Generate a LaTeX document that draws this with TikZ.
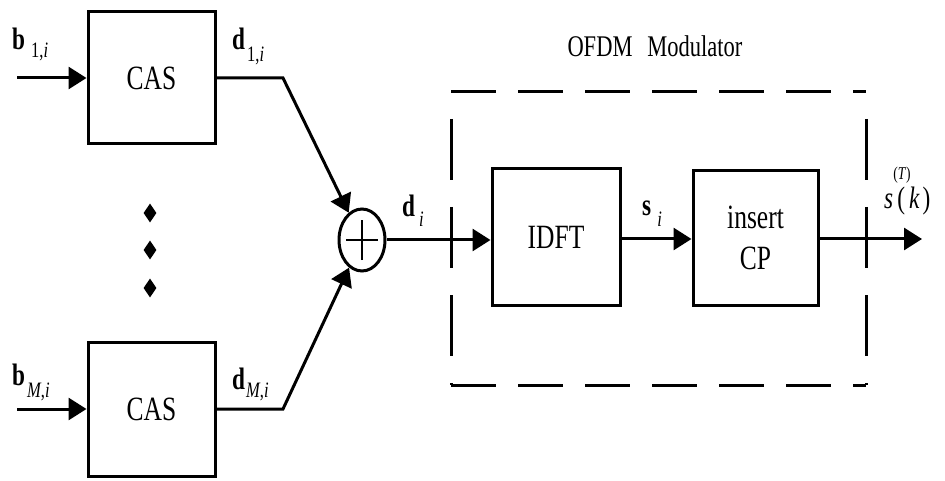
\documentclass[tikz,border=0pt]{standalone}
\usepackage{fontspec}
\setmainfont{Liberation Serif}[FakeStretch=0.75]
\usetikzlibrary{arrows.meta,shapes.geometric}
\begin{document}
\begin{tikzpicture}[x=1pt,y=-1pt,
  blk/.style={draw,line width=3pt,inner sep=0pt,font=\fontsize{34}{37}\selectfont,align=center},
  conn/.style={line width=3pt},
  arr/.style={conn,-{Triangle[length=18pt,width=22pt]}},
  lbl/.style={inner sep=0pt,anchor=base west,font=\fontsize{31}{31}\selectfont},
  dsh/.style={line width=3pt},
  dotmark/.style={diamond,fill=black,inner sep=0pt,minimum width=13pt,minimum height=19pt},
]
\useasboundingbox (0,0) rectangle (945,481);

% blocks
\node[blk,minimum width=127pt,minimum height=132pt] (cas1) at (151.5,78) {CAS};
\node[blk,minimum width=127pt,minimum height=134pt] (cas2) at (151.5,409) {CAS};
\node[blk,minimum width=128pt,minimum height=136pt] (idft) at (556,237) {IDFT};
\node[blk,minimum width=125pt,minimum height=134pt] (cp) at (755.5,238) {insert\\[4pt]CP};

% adder
\node[draw,line width=3pt,ellipse,minimum width=46pt,minimum height=62pt,inner sep=0pt] (sum) at (362,240) {};
\draw[line width=2.5pt] ([xshift=-16pt]sum.center) -- ([xshift=16pt]sum.center);
\draw[line width=2.5pt] ([yshift=-20pt]sum.center) -- ([yshift=20pt]sum.center);

% dots
\node[dotmark] (dot1) at (150,213) {};
\node[dotmark] (dot2) at (150,250) {};
\node[dotmark] (dot3) at (150,288) {};

% coordinates
\coordinate (in1) at (17,78);
\coordinate (in2) at (17,409);
\coordinate (c1) at (283,78);
\coordinate (c2) at (283,409);
\coordinate (out) at (922,239);

% connectors
\draw[arr] (in1) -- (cas1.west);
\draw[arr] (in2) -- (cas2.west);
\draw[arr] (cas1.east) -- (c1) -- (sum);
\draw[arr] (cas2.east) -- (c2) -- (sum);
\draw[arr] (sum.east) -- (sum.east -| idft.west);
\draw[arr] (idft.east |- 0,239) -- (cp.west |- 0,239);
\draw[arr] (cp.east |- 0,239) -- (out);

% dashed modulator frame
\coordinate (fa) at (451,92);
\coordinate (fb) at (866,92);
\coordinate (fc) at (866,385);
\coordinate (fd) at (451,385);
\draw[dsh,dash pattern=on 45pt off 22pt] (fa) -- (fb);
\draw[dsh,dash pattern=on 45pt off 22pt] (fd) -- (fc);
\draw[dsh,dash pattern=on 61pt off 27pt,dash phase=61pt] (fa) -- (fd);
\draw[dsh,dash pattern=on 61pt off 27pt,dash phase=61pt] (fb) -- (fc);
\node[inner sep=0pt,anchor=base,font=\fontsize{30}{30}\selectfont] (title) at (655,57) {OFDM\hspace{0.5em}Modulator};

% labels
\node[lbl] (lb1) at (12,50) {\textbf{b}\hspace{6pt}\raisebox{-8pt}{\fontsize{22}{22}\selectfont 1,\textit{i}}};
\node[lbl] (ld1) at (232,50) {\textbf{d}\hspace{2pt}\raisebox{-12pt}{\fontsize{22}{22}\selectfont 1,\textit{i}}};
\node[lbl] (lbM) at (12,385) {\textbf{b}\hspace{2pt}\raisebox{-12pt}{\fontsize{22}{22}\selectfont\textit{M},\textit{i}}};
\node[lbl] (ldM) at (232,389) {\textbf{d}\hspace{1pt}\raisebox{-8pt}{\fontsize{22}{22}\selectfont\textit{M},\textit{i}}};
\node[lbl] (ldi) at (402,217) {\textbf{d}\hspace{4pt}\raisebox{-10pt}{\fontsize{22}{22}\selectfont\textit{i}}};
\node[lbl] (lsi) at (642,216) {\textbf{s}\hspace{6pt}\raisebox{-11pt}{\fontsize{22}{22}\selectfont\textit{i}}};
\node[lbl] (lsT) at (884,209) {\textit{s}\rlap{\raisebox{29pt}{\fontsize{18}{18}\selectfont(\textit{T})}}\hspace{4pt}(\hspace{4pt}\textit{k}\hspace{3pt})};
\end{tikzpicture}
\end{document}
